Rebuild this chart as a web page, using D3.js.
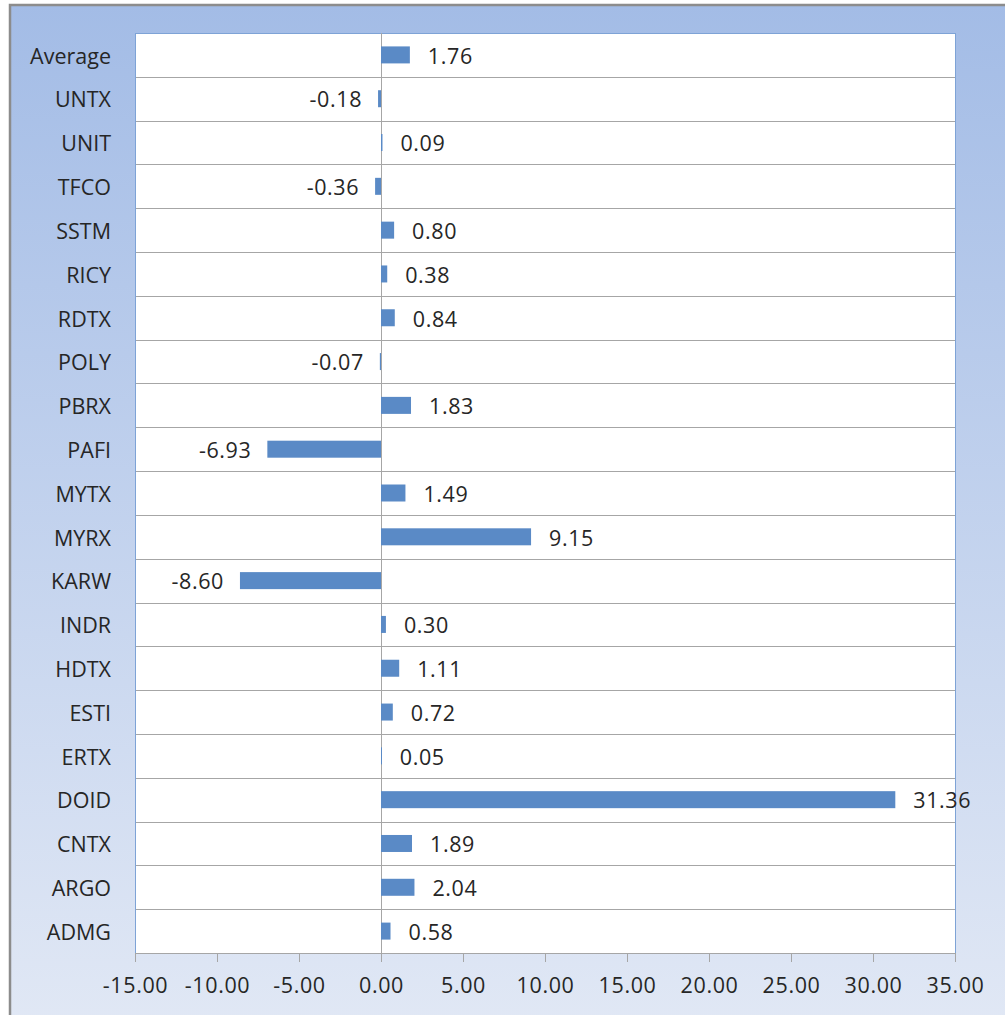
<!DOCTYPE html>
<html><head><meta charset="utf-8">
<script src="https://cdn.jsdelivr.net/npm/d3@7"></script>
<style>body{margin:0;background:#fff;}svg{display:block;}</style>
</head><body>
<script>
const categories = ["Average","UNTX","UNIT","TFCO","SSTM","RICY","RDTX","POLY","PBRX","PAFI","MYTX","MYRX","KARW","INDR","HDTX","ESTI","ERTX","DOID","CNTX","ARGO","ADMG"];
const values = [1.76,-0.18,0.09,-0.36,0.80,0.38,0.84,-0.07,1.83,-6.93,1.49,9.15,-8.60,0.30,1.11,0.72,0.05,31.36,1.89,2.04,0.58];
const tickValues = [-15,-10,-5,0,5,10,15,20,25,30,35];

const W = 1005, H = 1015;
const svg = d3.select("body").append("svg").attr("width", W).attr("height", H);
const defs = svg.append("defs");
const grad = defs.append("linearGradient").attr("id","bg").attr("x1",0).attr("y1",0).attr("x2",0).attr("y2",1);
grad.append("stop").attr("offset","0%").attr("stop-color","#a3bce6");
grad.append("stop").attr("offset","100%").attr("stop-color","#e1e8f5");

svg.append("rect").attr("x",0).attr("y",0).attr("width",W).attr("height",H).attr("fill","#fff");
svg.append("rect").attr("x",10).attr("y",5).attr("width",W+10).attr("height",H+10)
  .attr("fill","url(#bg)").attr("stroke","#8c8c8c").attr("stroke-width",2.5);

const L = 135, R = 955, T = 33, B = 953;
const x = d3.scaleLinear().domain([-15,35]).range([L,R]);
const y = d3.scaleBand().domain(categories).range([T,B]).paddingInner(0).paddingOuter(0);

const font = "'Open Sans', 'Liberation Sans', sans-serif";
const numSize = 21.5, catSize = 21.5;

svg.append("rect").attr("x",L).attr("y",T).attr("width",R-L).attr("height",B-T).attr("fill","#fff");

// horizontal gridlines between categories
const bounds = categories.map(c => y(c)).concat([B]);
svg.append("g").selectAll("line").data(bounds.slice(1)).join("line")
  .attr("x1",L).attr("x2",R).attr("y1",d=>Math.round(d)+0.5).attr("y2",d=>Math.round(d)+0.5)
  .attr("stroke","#a6a6a6").attr("stroke-width",1);

// plot border (left, top, right)
svg.append("line").attr("x1",L+0.5).attr("x2",L+0.5).attr("y1",T).attr("y2",B).attr("stroke","#7ea3d6").attr("stroke-width",1);
svg.append("line").attr("x1",R+0.5).attr("x2",R+0.5).attr("y1",T).attr("y2",B).attr("stroke","#7ea3d6").attr("stroke-width",1);
svg.append("line").attr("x1",L).attr("x2",R).attr("y1",T+0.5).attr("y2",T+0.5).attr("stroke","#7ea3d6").attr("stroke-width",1);

// zero line
svg.append("line").attr("x1",Math.round(x(0))+0.5).attr("x2",Math.round(x(0))+0.5).attr("y1",T).attr("y2",B+9)
  .attr("stroke","#a6a6a6").attr("stroke-width",1);

// bars
const bh = 17;
svg.append("g").selectAll("rect").data(values).join("rect")
  .attr("x",(d)=>x(Math.min(0,d)))
  .attr("width",(d)=>Math.max(1, Math.abs(x(d)-x(0))))
  .attr("y",(d,i)=>y(categories[i]) + y.bandwidth()/2 - bh/2)
  .attr("height",bh)
  .attr("fill","#5a8ac6");

// data labels
svg.append("g").selectAll("text").data(values).join("text")
  .attr("x",d=> d>=0 ? x(d)+18 : x(d)-16)
  .attr("y",(d,i)=>y(categories[i]) + y.bandwidth()/2 + 1)
  .attr("dy","0.36em")
  .attr("text-anchor",d=> d>=0 ? "start" : "end")
  .attr("font-family",font).attr("font-size",numSize).attr("letter-spacing","0.6px").attr("fill","#262626")
  .text(d=>d.toFixed(2));

// category labels
svg.append("g").selectAll("text").data(categories).join("text")
  .attr("x",111)
  .attr("y",d=>y(d)+y.bandwidth()/2 + 1)
  .attr("dy","0.36em")
  .attr("text-anchor","end")
  .attr("font-family",font).attr("font-size",catSize).attr("fill","#262626")
  .text(d=>d);

// x axis
const xAxis = d3.axisBottom(x).tickValues(tickValues).tickFormat(d=>d.toFixed(2)).tickSize(9).tickPadding(16);
const ax = svg.append("g").attr("transform",`translate(0,${B})`).call(xAxis);
ax.select(".domain").remove();
ax.selectAll(".tick line").attr("stroke","#a6a6a6");
ax.selectAll(".tick text").attr("font-family",font).attr("font-size",numSize).attr("letter-spacing","0.6px").attr("fill","#262626");
</script>
</body></html>
